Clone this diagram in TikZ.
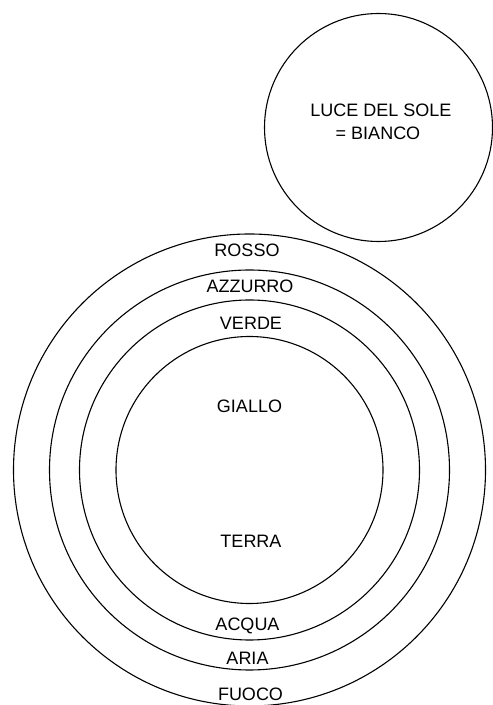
\documentclass[tikz,border=0pt]{standalone}
\usepackage{fontspec}
\setmainfont{Liberation Sans}
\begin{document}
\begin{tikzpicture}[x=1pt,y=1pt,
  ring/.style={draw=black, line width=1.1pt, circle, inner sep=0pt},
  lbl/.style={anchor=base, inner sep=0pt, font=\fontsize{18}{20}\selectfont}]
\useasboundingbox (0,0) rectangle (493,705);
% sun circle
\node[ring, minimum size=228pt] (sun) at (378.5,577.5) {};
\node[lbl] (luce) at (381,588) {LUCE DEL SOLE};
\node[lbl] (bianco) at (378,565) {= BIANCO};
% concentric circles
\node[ring, minimum size=472pt] (fuoco) at (249.5,235) {};
\node[ring, minimum size=400pt] (aria) at (249.5,235) {};
\node[ring, minimum size=340pt] (acqua) at (249.5,235) {};
\node[ring, minimum size=267pt] (terra) at (249.5,235) {};
% labels
\node[lbl] (rosso) at (247,448) {ROSSO};
\node[lbl] (azzurro) at (250,412) {AZZURRO};
\node[lbl] (verde) at (251,375) {VERDE};
\node[lbl] (giallo) at (249.5,292) {GIALLO};
\node[lbl] (terralbl) at (251,157) {TERRA};
\node[lbl] (acqualbl) at (247.5,74) {ACQUA};
\node[lbl] (arialbl) at (247.5,40) {ARIA};
\node[lbl] (fuocolbl) at (250.5,5) {FUOCO};
\end{tikzpicture}
\end{document}
